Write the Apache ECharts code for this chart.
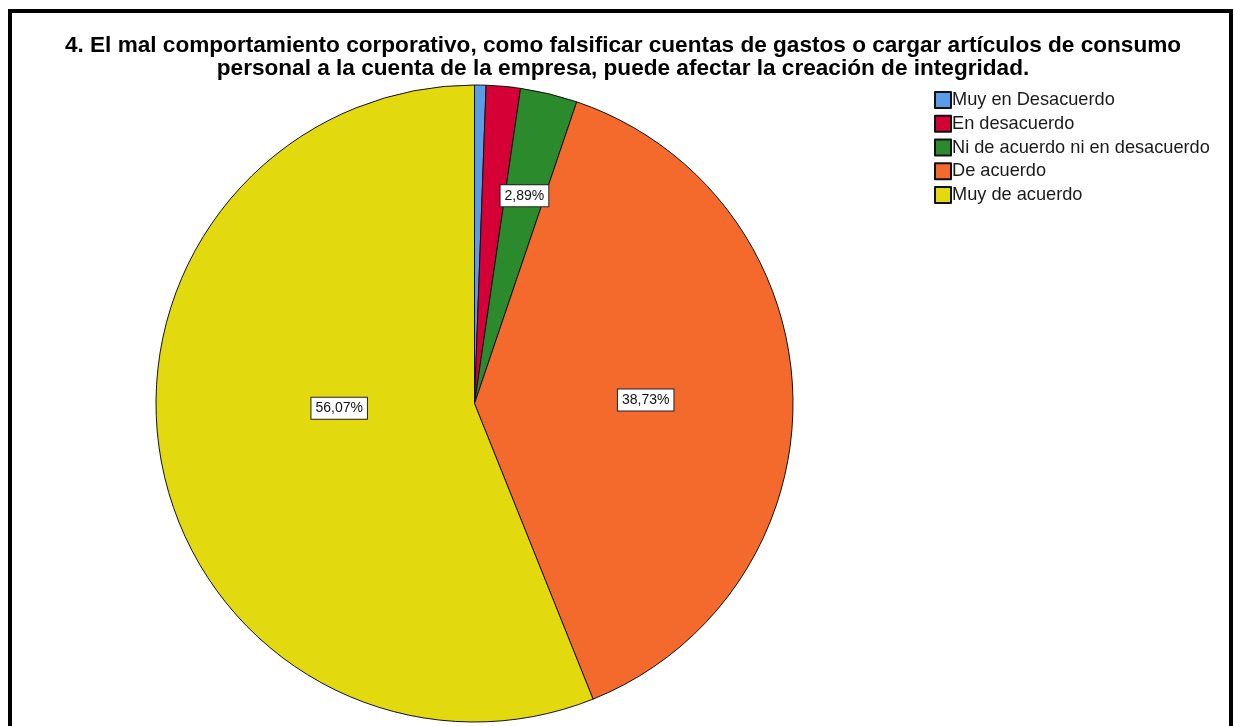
<!DOCTYPE html>
<html>
<head>
<meta charset="utf-8">
<script src="https://cdn.jsdelivr.net/npm/echarts@6/dist/echarts.min.js"></script>
<style>
  html, body { margin: 0; padding: 0; background: #ffffff; }
  #chart { width: 1235px; height: 726px; }
</style>
</head>
<body>
<div id="chart"></div>
<script>
// Survey item 4: responses on a five-point agreement scale (percent)
const categories = [
  'Muy en Desacuerdo',
  'En desacuerdo',
  'Ni de acuerdo ni en desacuerdo',
  'De acuerdo',
  'Muy de acuerdo'
];
const percents = [0.58, 1.73, 2.89, 38.73, 56.07];
const sliceColors = ['#5b9ce6', '#d50035', '#2a8a2c', '#f36a2c', '#e3d90f'];
// Only the three larger slices carry a value label
const showLabel = [false, false, true, true, true];
// Nudges of each label away from the default mid-radius spot
const labelNudge = [[0, 0], [0, 0], [12, -50], [9, 1], [24, -26]];

const titleText =
  '4. El mal comportamiento corporativo, como falsificar cuentas de gastos o cargar artículos de consumo\n' +
  'personal a la cuenta de la empresa, puede afectar la creación de integridad.';

const chart = echarts.init(document.getElementById('chart'), null, { renderer: 'canvas' });

const formatPct = v => v.toFixed(2).replace('.', ',') + '%';

chart.setOption({
  backgroundColor: '#ffffff',
  animation: false,
  color: sliceColors,
  title: {
    text: titleText,
    left: 618,
    top: 29,
    textAlign: 'center',
    textStyle: {
      fontFamily: 'Liberation Sans, Arial, sans-serif',
      fontWeight: 'bold',
      fontSize: 22.6,
      lineHeight: 23.5,
      color: '#000000'
    }
  },
  legend: {
    orient: 'vertical',
    left: 929,
    top: 85,
    icon: 'rect',
    itemWidth: 16,
    itemHeight: 16,
    itemGap: 3.75,
    selectedMode: false,
    textStyle: {
      fontFamily: 'Liberation Sans, Arial, sans-serif',
      fontSize: 18.2,
      lineHeight: 20,
      color: '#1a1a1a',
      padding: [0, 0, 0, -4]
    },
    data: categories
  },
  graphic: [{
    type: 'rect',
    silent: true,
    z: 100,
    shape: { x: 10, y: 11, width: 1221, height: 740 },
    style: { fill: 'none', stroke: '#000000', lineWidth: 4 }
  }],
  series: [{
    type: 'pie',
    center: [474.5, 403.5],
    radius: 318.5,
    startAngle: 90,
    clockwise: true,
    avoidLabelOverlap: false,
    itemStyle: { borderColor: '#111111', borderWidth: 1 },
    emphasis: { disabled: true },
    labelLine: { show: false },
    label: {
      position: 'inside',
      formatter: p => formatPct(p.value),
      fontFamily: 'Liberation Sans, Arial, sans-serif',
      fontSize: 14,
      color: '#111111',
      backgroundColor: '#ffffff',
      borderColor: '#222222',
      borderWidth: 1,
      padding: [4, 4, 3, 4]
    },
    labelLayout: p => {
      const n = labelNudge[p.dataIndex];
      return { dx: n[0], dy: n[1] };
    },
    data: categories.map((name, i) => ({
      name: name,
      value: percents[i],
      label: { show: showLabel[i] }
    }))
  }]
});
</script>
</body>
</html>
